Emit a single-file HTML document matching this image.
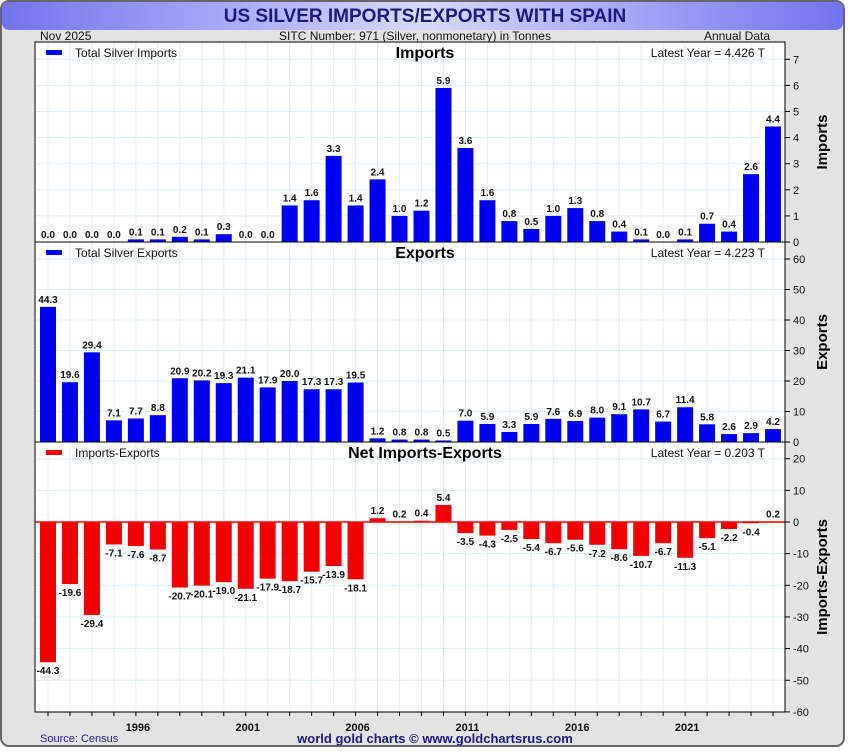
<!DOCTYPE html>
<html><head><meta charset="utf-8">
<style>
body{margin:0;width:850px;height:750px;overflow:hidden;background:#fff;font-family:"Liberation Sans",sans-serif}
</style></head>
<body>
<svg id="chart" width="850" height="750" xmlns="http://www.w3.org/2000/svg" font-family="Liberation Sans, sans-serif">
<defs>
<linearGradient id="tg" x1="0" x2="1" y1="0" y2="0">
<stop offset="0" stop-color="#7373f0"/><stop offset="0.5" stop-color="#d8d8fb"/><stop offset="1" stop-color="#7373f0"/>
</linearGradient>
</defs>
<rect x="1" y="1" width="843" height="745" rx="8" fill="#e3e3e3" stroke="#666" stroke-width="2"/>
<rect x="2" y="2" width="841" height="28" rx="7" fill="url(#tg)"/>
<text x="425" y="22" text-anchor="middle" font-size="19" font-weight="bold" fill="#1a1a80">US SILVER IMPORTS/EXPORTS WITH SPAIN</text>
<text x="40" y="40" font-size="12" fill="#111">Nov  2025</text>
<text x="415" y="40" text-anchor="middle" font-size="12" fill="#111">SITC Number: 971 (Silver, nonmonetary) in Tonnes</text>
<text x="770" y="40" text-anchor="end" font-size="12" fill="#111">Annual Data</text>
<rect x="35" y="42" width="750" height="670" fill="#fff"/>
<g id="grid"></g>
<g id="bars"></g>
<text x="40" y="742" font-size="11" fill="#2020a0">Source: Census</text>
<text x="435" y="743" text-anchor="middle" font-size="13" font-weight="bold" fill="#1a1a80">world gold charts © www.goldchartsrus.com</text>
</svg>
<script>
const years=[1992,1993,1994,1995,1996,1997,1998,1999,2000,2001,2002,2003,2004,2005,2006,2007,2008,2009,2010,2011,2012,2013,2014,2015,2016,2017,2018,2019,2020,2021,2022,2023,2024,2025];
const imports=[0.0,0.0,0.0,0.0,0.1,0.1,0.2,0.1,0.3,0.0,0.0,1.4,1.6,3.3,1.4,2.4,1.0,1.2,5.9,3.6,1.6,0.8,0.5,1.0,1.3,0.8,0.4,0.1,0.0,0.1,0.7,0.4,2.6,4.426];
const exportsV=[44.3,19.6,29.4,7.1,7.7,8.8,20.9,20.2,19.3,21.1,17.9,20.0,17.3,17.3,19.5,1.2,0.8,0.8,0.5,7.0,5.9,3.3,5.9,7.6,6.9,8.0,9.1,10.7,6.7,11.4,5.8,2.6,2.9,4.223];
const net=[-44.3,-19.6,-29.4,-7.1,-7.6,-8.7,-20.7,-20.1,-19.0,-21.1,-17.9,-18.7,-15.7,-13.9,-18.1,1.2,0.2,0.4,5.4,-3.5,-4.3,-2.5,-5.4,-6.7,-5.6,-7.2,-8.6,-10.7,-6.7,-11.3,-5.1,-2.2,-0.4,0.203];
const importTicks=[0,1,2,3,4,5,6,7];
const exportTicks=[0,10,20,30,40,50,60];
const netTicks=[20,10,0,-10,-20,-30,-40,-50,-60];
const yearLabels=[1996,2001,2006,2011,2016,2021];

const NS="http://www.w3.org/2000/svg";
const svg=document.getElementById('chart');
const grid=document.getElementById('grid');
const barsG=document.getElementById('bars');
const L=35,R=785;
function x(i){return 48+i*(737-12)/33;}
function mk(tag,attrs,parent){const e=document.createElementNS(NS,tag);for(const k in attrs)e.setAttribute(k,attrs[k]);(parent||svg).appendChild(e);return e;}

const panels=[
 {name:'imports',data:imports,ticks:importTicks,top:42,bottom:242,y:v=>242-v*26.1,color:'#0000f0',title:'Imports',legend:'Total Silver Imports',latest:'Latest Year = 4.426 T',axis:'Imports'},
 {name:'exports',data:exportsV,ticks:exportTicks,top:242,bottom:442,y:v=>442-v*3.05,color:'#0000f0',title:'Exports',legend:'Total Silver Exports',latest:'Latest Year = 4.223 T',axis:'Exports'},
 {name:'net',data:net,ticks:netTicks,top:442,bottom:712,y:v=>522-v*3.165,color:'#f00000',title:'Net Imports-Exports',legend:'Imports-Exports',latest:'Latest Year = 0.203 T',axis:'Imports-Exports'}
];
panels.forEach(p=>{
  for(let i=0;i<years.length;i++){
    const g=mk('line',{x1:x(i),x2:x(i),y1:p.top,y2:p.bottom,stroke:'#dfeef8','stroke-width':1},grid);
    
    
  }
  p.ticks.forEach(t=>{
    const yy=p.y(t);
    if(t!==0||p.name!=='net'){
      const h=mk('line',{x1:L,x2:R,y1:yy,y2:yy,stroke:'#dfeef8','stroke-width':1},grid);
      
      
    }
    const tk=mk('line',{x1:R,x2:R+5,y1:yy,y2:yy,stroke:'#000'});
    
    
    const tl=mk('text',{x:R+8,y:yy+4,'font-size':11,fill:'#111'});
    tl.textContent=t;
    
    
  });
  p.data.forEach((v,i)=>{
    const y0=p.y(0),y1=p.y(v);
    const r=mk('rect',{x:x(i)-8,y:Math.min(y0,y1),width:16,height:Math.max(Math.abs(y1-y0),0.01),fill:p.color},barsG);
    
    
    const lbl=mk('text',{x:x(i),y:v>=0?y1-4:y1+12,'text-anchor':'middle','font-size':10,'font-weight':'bold',fill:'#111'});
    lbl.textContent=v.toFixed(1);
    
    
  });
  if(p.name==='net'){
    const z=mk('line',{x1:L,x2:R,y1:p.y(0),y2:p.y(0),stroke:'#f00','stroke-width':1.5});
    
    
  }
  const lg=mk('rect',{x:46,y:p.top+8,width:16,height:5,fill:p.color});
  
  
  const lt=mk('text',{x:75,y:p.top+15,'font-size':12,fill:'#111'});
  lt.textContent=p.legend;
  
  
  const pt=mk('text',{x:425,y:p.top+16,'text-anchor':'middle','font-size':16,'font-weight':'bold',fill:'#000'});
  pt.textContent=p.title;
  
  
  const ly=mk('text',{x:765,y:p.top+15,'text-anchor':'end','font-size':12,fill:'#111'});
  ly.textContent=p.latest;
  
  
  const cy=(p.top+p.bottom)/2;
  const at=mk('text',{x:0,y:0,'text-anchor':'middle','font-size':15,'font-weight':'bold',fill:'#000',transform:'translate(827,'+cy+') rotate(-90)'});
  at.textContent=p.axis;
  
  
  const bl=mk('line',{x1:L,x2:R,y1:p.bottom,y2:p.bottom,stroke:'#000','stroke-width':1});
  
  
});
const border=mk('rect',{x:L,y:42,width:R-L,height:670,fill:'none',stroke:'#000','stroke-width':1});


for(let i=0;i<years.length;i++){
  const t=mk('line',{x1:x(i),x2:x(i),y1:712,y2:716,stroke:'#000'});
  
  
}
yearLabels.forEach(yr=>{
  const i=years.indexOf(yr);
  const t=mk('text',{x:x(i)+2,y:731,'text-anchor':'middle','font-size':11,'font-weight':'bold',fill:'#111'});
  t.textContent=yr;
  
  
});
</script>
</body></html>
